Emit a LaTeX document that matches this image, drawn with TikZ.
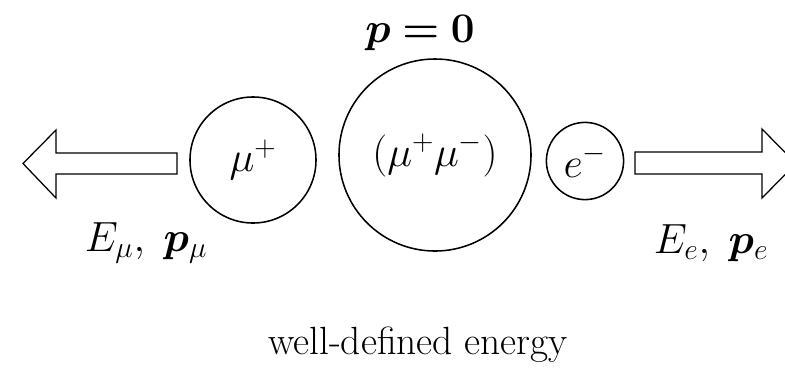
\RequirePackage{fix-cm}
\documentclass[tikz,border=0pt]{standalone}
\usepackage{bm}
\usetikzlibrary{positioning}

\begin{document}
\begin{tikzpicture}[
    x=0.025cm, y=-0.025cm,
    particle/.style={circle, draw=black, line width=1.1pt, inner sep=0pt, font=\fontsize{30}{36}\selectfont},
    bigarrow/.style={draw=black, line width=0.9pt, fill=white, line join=miter},
    lbl/.style={font=\fontsize{30}{36}\selectfont, inner sep=0pt}
]
\useasboundingbox (0,0) rectangle (785,391);

% --- Teilchen ---
\node[particle, minimum size=3.15cm] (muplus) at (253,160) {$\mu^+$};
\node[particle, minimum size=4.8cm] (pair) at (435,155) {$(\mu^+\mu^-)$};
\node[particle, minimum size=1.93cm] (elec) at (585,161) {$e^-$};

% --- Impulspfeile ---
\draw[bigarrow] (177,153) -- (56,153) -- (56,130) -- (23,163.5) -- (56,198)
    -- (56,174) -- (177,174) -- cycle;
\draw[bigarrow] (635,152) -- (762,152) -- (762,129) -- (796,163.5) -- (762,198)
    -- (762,174) -- (635,174) -- cycle;

% --- Beschriftungen ---
\node[lbl] (ptot) at (420,33) {$\bm{p=0}$};
\node[lbl] (emu) at (146,243) {$E_\mu,\;\bm{p}_\mu$};
\node[lbl] (ee) at (711,243) {$E_e,\;\bm{p}_e$};
\node[lbl, font=\fontsize{28}{34}\selectfont] (energy) at (418,345) {well-defined energy};

\end{tikzpicture}
\end{document}
